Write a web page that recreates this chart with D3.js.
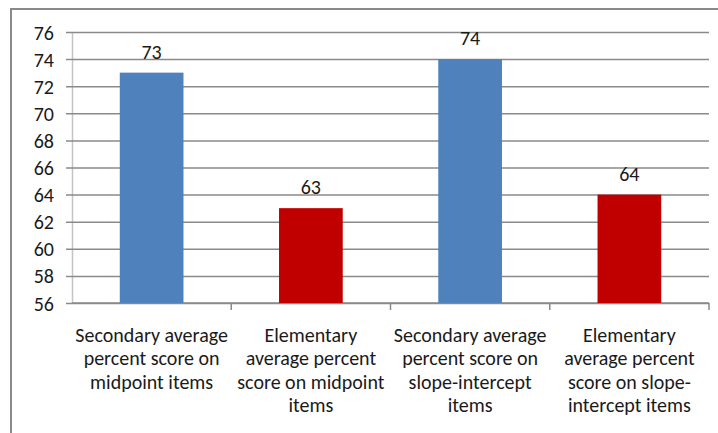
<!DOCTYPE html>
<html>
<head>
<meta charset="utf-8">
<script src="https://cdn.jsdelivr.net/npm/d3@7"></script>
<style>
  html, body { margin: 0; padding: 0; background: #fff; }
  svg { display: block; }
  text { font-family: Carlito, Lato, "Liberation Sans", sans-serif; fill: #1a1a1a; }
</style>
</head>
<body>
<svg id="chart" width="718" height="433"></svg>
<script>
// Average percent scores by group and item type
const categories = [
  ["Secondary average", "percent score on", "midpoint items"],
  ["Elementary", "average percent", "score on midpoint", "items"],
  ["Secondary average", "percent score on", "slope-intercept", "items"],
  ["Elementary", "average percent", "score on slope-", "intercept items"]
];
const scores = [73, 63, 74, 64];
const barColors = ["#4F81BD", "#C00000", "#4F81BD", "#C00000"];
const yTicks = [56, 58, 60, 62, 64, 66, 68, 70, 72, 74, 76];

const svg = d3.select("#chart");
const W = 718, H = 433;
const plot = { left: 72, right: 709, top: 32, bottom: 303 };
const fontSize = 20;

// Outer frame (left and top edges visible)
svg.append("path")
  .attr("d", `M11,${H} L11,9 L${W},9`)
  .attr("fill", "none")
  .attr("stroke", "#8a8a8a")
  .attr("stroke-width", 2);

const x = d3.scaleBand()
  .domain(d3.range(categories.length))
  .range([plot.left, plot.right])
  .paddingInner(0.6)
  .paddingOuter(0.3);

const y = d3.scaleLinear()
  .domain([56, 76])
  .range([plot.bottom, plot.top]);

// Horizontal gridlines with tick marks and labels
const yAxis = d3.axisLeft(y)
  .tickValues(yTicks)
  .tickSize(-(plot.right - plot.left))
  .tickSizeOuter(0)
  .tickPadding(18);

const gy = svg.append("g")
  .attr("transform", `translate(${plot.left},0)`)
  .call(yAxis);
gy.select(".domain").attr("stroke", "#c4c4c4").attr("stroke-width", 1.5);
gy.selectAll(".tick line").attr("stroke", "#8a8a8a").attr("stroke-width", 1.5)
  .attr("x1", -6);
gy.selectAll(".tick text")
  .attr("font-size", fontSize)
  .attr("font-family", "Carlito, Lato, 'Liberation Sans', sans-serif")
  .attr("fill", "#1a1a1a")
  .attr("dy", "0.35em");

// Category axis with tick marks between categories
const bounds = d3.range(categories.length + 1).map(i => plot.left + i * x.step());
svg.append("line")
  .attr("x1", plot.left).attr("x2", plot.right)
  .attr("y1", plot.bottom).attr("y2", plot.bottom)
  .attr("stroke", "#8a8a8a").attr("stroke-width", 1.5);
svg.selectAll("line.ctick")
  .data(bounds.slice(1))
  .join("line")
  .attr("class", "ctick")
  .attr("x1", d => d).attr("x2", d => d)
  .attr("y1", plot.bottom).attr("y2", plot.bottom + 7)
  .attr("stroke", "#8a8a8a").attr("stroke-width", 1.5);

// Bars
svg.selectAll("rect.bar")
  .data(scores)
  .join("rect")
  .attr("class", "bar")
  .attr("x", (d, i) => x(i))
  .attr("width", x.bandwidth())
  .attr("y", d => y(d))
  .attr("height", d => y(56) - y(d))
  .attr("fill", (d, i) => barColors[i]);

// Value labels
svg.selectAll("text.val")
  .data(scores)
  .join("text")
  .attr("class", "val")
  .attr("x", (d, i) => x(i) + x.bandwidth() / 2)
  .attr("y", d => y(d) - 14)
  .attr("text-anchor", "middle")
  .attr("font-size", fontSize)
  .text(d => d);

// Category labels
const lab = svg.selectAll("text.cat")
  .data(categories)
  .join("text")
  .attr("class", "cat")
  .attr("text-anchor", "middle")
  .attr("font-size", fontSize)
  .attr("x", (d, i) => x(i) + x.bandwidth() / 2)
  .attr("y", 342);
lab.selectAll("tspan")
  .data(d => d)
  .join("tspan")
  .attr("x", function () { return this.parentNode.getAttribute("x"); })
  .attr("dy", (d, j) => j === 0 ? 0 : 23.3)
  .text(d => d);
</script>
</body>
</html>
